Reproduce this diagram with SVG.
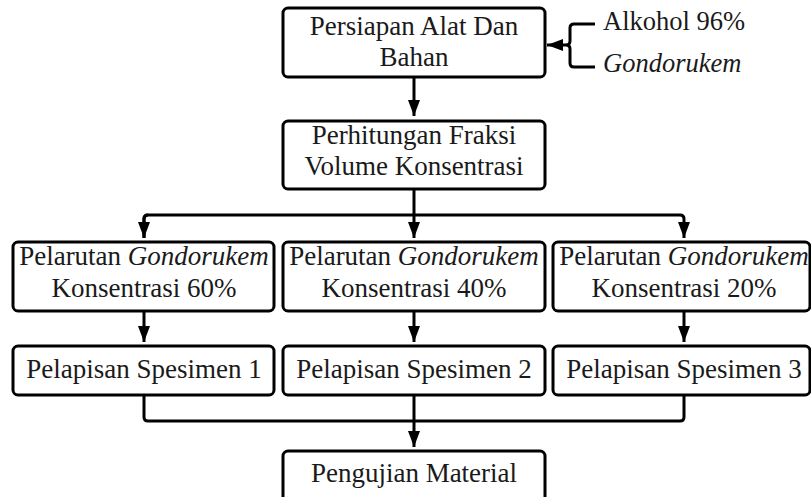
<svg xmlns="http://www.w3.org/2000/svg" width="811" height="497" viewBox="0 0 811 497">
<style>
.box{fill:#fff;stroke:#000;stroke-width:3}
.t{font-family:"Liberation Serif","Times New Roman",serif;font-size:27px;fill:#1a1a1a;text-anchor:middle}
.s{font-family:"Liberation Serif","Times New Roman",serif;font-size:26.5px;fill:#1a1a1a}
.c{fill:none;stroke:#000;stroke-width:3}
</style>
<defs>
<marker id="ah" markerUnits="userSpaceOnUse" markerWidth="18" markerHeight="14" refX="16" refY="6" orient="auto">
<path d="M0,0 L16,6 L0,12 z" fill="#000"/>
</marker>
</defs>
<rect width="811" height="497" fill="#fff"/>
<g id="connectors">
<path class="c" d="M414,77 V116" marker-end="url(#ah)"/>
<path class="c" d="M414,189 V238" marker-end="url(#ah)"/>
<path class="c" d="M144,238 V219 Q144,215 148,215 H680 Q684,215 684,219 V238" marker-end="url(#ah)"/>
<path class="c" d="M148,215 Q144,215 144,219 V238" marker-end="url(#ah)"/>
<path class="c" d="M144,311 V342" marker-end="url(#ah)"/>
<path class="c" d="M414,311 V342" marker-end="url(#ah)"/>
<path class="c" d="M684,311 V342" marker-end="url(#ah)"/>
<path class="c" d="M144,395 V417 Q144,421 148,421 H680 Q684,421 684,417 V395"/>
<path class="c" d="M414,395 V447" marker-end="url(#ah)"/>
<path class="c" d="M595,24 H574 Q570,24 570,28 V41 Q570,45 566,45 Q570,45 570,49 V63 Q570,67 574,67 H595"/>
<path class="c" d="M566,45 H547" marker-end="url(#ah)"/>
</g>
<g id="n1">
<rect class="box" x="283" y="8" width="262" height="69" rx="5"/>
<text class="t" x="414" y="35">Persiapan Alat Dan</text>
<text class="t" x="414" y="66">Bahan</text>
</g>
<g id="side">
<text class="s" x="603" y="30">Alkohol 96%</text>
<text class="s" x="603" y="72" font-style="italic">Gondorukem</text>
</g>
<g id="n2">
<rect class="box" x="283" y="121" width="262" height="68" rx="5"/>
<text class="t" x="414" y="144">Perhitungan Fraksi</text>
<text class="t" x="414" y="175">Volume Konsentrasi</text>
</g>
<g id="n3">
<rect class="box" x="13" y="242" width="261" height="69" rx="5"/>
<text class="t" x="144" y="265">Pelarutan <tspan font-style="italic">Gondorukem</tspan></text>
<text class="t" x="144" y="297">Konsentrasi 60%</text>
</g>
<g id="n4">
<rect class="box" x="283" y="242" width="262" height="69" rx="5"/>
<text class="t" x="414" y="265">Pelarutan <tspan font-style="italic">Gondorukem</tspan></text>
<text class="t" x="414" y="297">Konsentrasi 40%</text>
</g>
<g id="n5">
<rect class="box" x="553" y="242" width="257" height="69" rx="5"/>
<text class="t" x="684" y="265">Pelarutan <tspan font-style="italic">Gondorukem</tspan></text>
<text class="t" x="684" y="297">Konsentrasi 20%</text>
</g>
<g id="n6">
<rect class="box" x="13" y="346" width="261" height="49" rx="5"/>
<text class="t" x="144" y="378">Pelapisan Spesimen 1</text>
</g>
<g id="n7">
<rect class="box" x="283" y="346" width="262" height="49" rx="5"/>
<text class="t" x="414" y="378">Pelapisan Spesimen 2</text>
</g>
<g id="n8">
<rect class="box" x="553" y="346" width="257" height="49" rx="5"/>
<text class="t" x="684" y="378">Pelapisan Spesimen 3</text>
</g>
<g id="n9">
<rect class="box" x="283" y="451" width="262" height="52" rx="5"/>
<text class="t" x="414" y="482">Pengujian Material</text>
</g>
</svg>
